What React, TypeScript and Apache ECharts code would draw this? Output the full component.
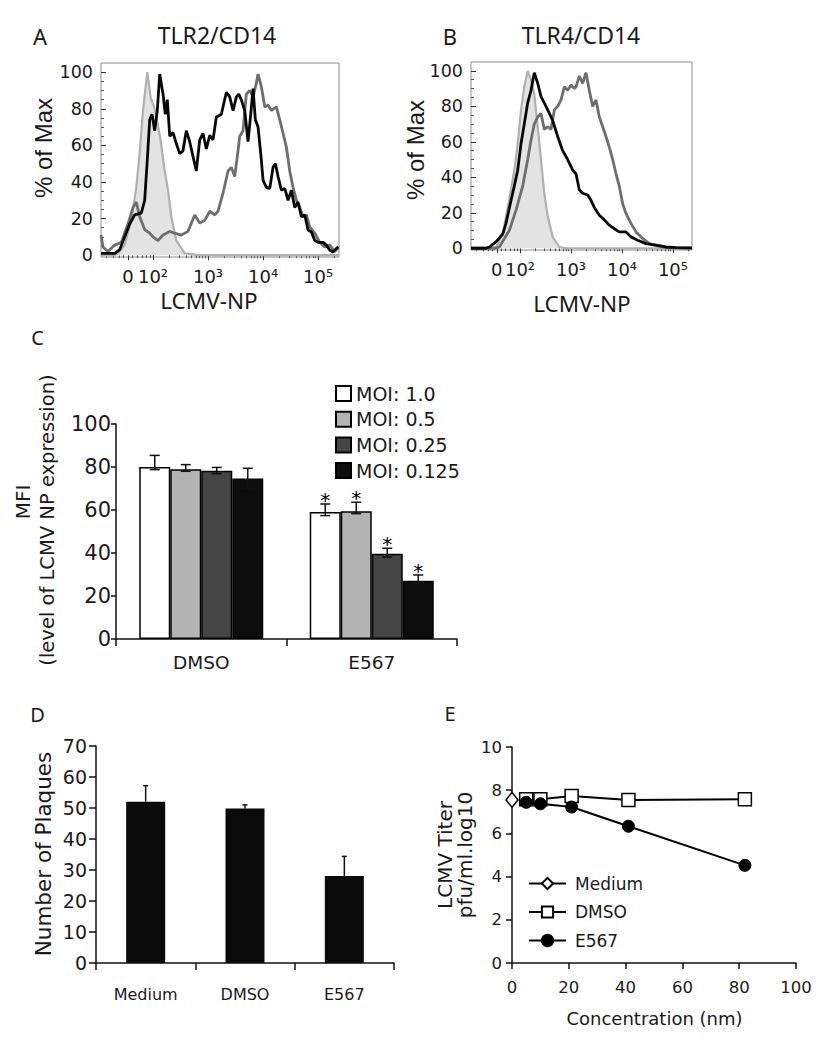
import React, { useEffect, useRef } from 'react';
import * as echarts from 'echarts';

const FF = 'DejaVu Sans';
const FN = 'Noto Sans';
const TXT = '#1a1a1a';

// ---------- Panels A/B: flow histograms (x in logicle "decade" units) ----------
const decadeTicks = [1.545, 2, 3, 4, 5];
const decadeLabels = ['0', '10²', '10³', '10⁴', '10⁵'];
const pctTicks = [0, 20, 40, 60, 80, 100];

const aControl = [
  [1.055, 0], [1.3, 0], [1.364, 1], [1.485, 5.5], [1.605, 19], [1.696, 37], [1.758, 56], [1.818, 79],
  [1.896, 100], [1.958, 86], [2.031, 80], [2.127, 65], [2.213, 46], [2.273, 35.5], [2.333, 21],
  [2.424, 8], [2.576, 1], [2.818, 0], [5.38, 0],
];
const aGray = [
  [1.055, 11], [1.091, 4.5], [1.182, 2], [1.304, 5.5], [1.424, 7], [1.545, 17], [1.636, 26], [1.696, 29],
  [1.758, 21], [1.849, 14], [1.94, 12], [2.0, 10], [2.091, 8], [2.182, 11], [2.304, 13], [2.395, 12],
  [2.515, 11], [2.636, 13], [2.758, 22], [2.849, 17.5], [2.94, 19], [3.031, 24], [3.122, 22], [3.182, 24],
  [3.273, 34], [3.364, 46], [3.424, 48], [3.485, 43], [3.545, 57], [3.576, 65], [3.636, 68], [3.696, 88],
  [3.758, 90], [3.818, 86.5], [3.878, 94], [3.909, 99], [3.969, 92], [4.031, 81], [4.091, 82], [4.151, 79],
  [4.242, 81], [4.304, 74], [4.364, 66.5], [4.424, 59], [4.485, 46], [4.545, 37], [4.606, 30], [4.667, 26],
  [4.727, 21], [4.787, 22], [4.849, 15.5], [4.94, 12], [5.031, 7], [5.122, 4.5], [5.213, 5.5], [5.303, 2],
  [5.364, 4],
];
const aBlack = [
  [1.055, 1], [1.309, 1], [1.395, 3], [1.485, 10], [1.576, 17], [1.667, 22], [1.787, 23], [1.849, 30],
  [1.896, 52], [1.94, 74], [1.982, 77], [2.031, 68], [2.078, 79], [2.122, 99], [2.182, 88], [2.224, 77],
  [2.26, 85], [2.304, 65], [2.364, 67], [2.424, 61], [2.485, 55.5], [2.545, 57], [2.605, 68], [2.667, 62],
  [2.727, 54], [2.787, 46], [2.849, 63], [2.909, 66.5], [2.969, 58], [3.031, 65.5], [3.091, 63], [3.151, 75.5],
  [3.213, 76.5], [3.242, 77], [3.333, 89], [3.394, 86.5], [3.455, 79], [3.515, 86.5], [3.558, 88], [3.605, 85],
  [3.667, 79], [3.727, 62], [3.776, 77], [3.818, 91], [3.86, 74], [3.909, 70], [3.958, 55.5], [4.0, 41],
  [4.06, 37], [4.122, 36.5], [4.182, 48], [4.224, 50], [4.273, 43], [4.333, 35.5], [4.394, 36.5], [4.455, 30],
  [4.515, 35.5], [4.576, 26], [4.636, 29], [4.697, 21], [4.758, 22], [4.818, 13.7], [4.878, 12.7], [4.94, 8],
  [5.0, 7], [5.091, 7], [5.151, 5.5], [5.213, 2.7], [5.273, 1.8], [5.333, 3.7], [5.37, 4.5],
];

const bControl = [
  [1.039, 0], [1.412, 0], [1.529, 0.7], [1.661, 8], [1.759, 23], [1.824, 33], [1.888, 44], [1.955, 59],
  [2.02, 78], [2.084, 91], [2.151, 100], [2.216, 95], [2.28, 87], [2.347, 68.5], [2.412, 50], [2.476, 31],
  [2.543, 18], [2.641, 6.4], [2.771, 0.7], [2.902, 0], [5.373, 0],
];
const bGray = [
  [1.039, 0], [1.51, 0], [1.594, 0.7], [1.79, 10], [1.922, 21.5], [2.053, 35], [2.151, 50], [2.216, 61],
  [2.28, 70], [2.347, 74], [2.412, 76], [2.476, 67], [2.543, 68.5], [2.608, 67], [2.673, 78], [2.739, 80],
  [2.804, 83.6], [2.869, 91], [2.935, 89], [3.0, 92], [3.065, 90], [3.098, 91], [3.163, 97], [3.229, 93],
  [3.294, 99], [3.359, 89], [3.425, 80], [3.49, 83.6], [3.555, 74], [3.622, 68.5], [3.686, 63], [3.751, 57],
  [3.818, 50], [3.882, 42], [3.947, 35], [4.014, 25], [4.078, 19.6], [4.176, 14], [4.275, 9.2], [4.406, 5.5],
  [4.535, 2.6], [4.7, 1.3], [4.863, 0.3], [5.373, 0],
];
const bBlack = [
  [1.039, 0], [1.333, 0], [1.398, 0.7], [1.529, 3.6], [1.661, 8], [1.725, 14], [1.824, 27], [1.888, 35],
  [1.955, 44], [2.02, 59], [2.084, 70], [2.151, 82], [2.216, 89], [2.28, 99], [2.347, 93], [2.412, 85.5],
  [2.476, 82], [2.543, 78], [2.641, 72], [2.739, 63], [2.837, 55], [2.935, 50], [3.033, 44], [3.098, 42],
  [3.163, 33], [3.229, 31], [3.327, 30], [3.392, 27], [3.457, 23], [3.555, 18.6], [3.653, 16], [3.751, 13],
  [3.849, 11], [3.947, 9.2], [4.078, 9.2], [4.176, 6.4], [4.308, 4.5], [4.471, 2.6], [4.667, 1.7],
  [4.863, 0.7], [5.059, 0.3], [5.373, 0.2],
];

// ---------- Panel C ----------
const cCategories = ['DMSO', 'E567'];
const moiNames = ['MOI: 1.0', 'MOI: 0.5', 'MOI: 0.25', 'MOI: 0.125'];
const moi10 = [80, 59.1];
const moi05 = [79, 59.4];
const moi025 = [78.3, 39.7];
const moi0125 = [74.7, 27.1];
const cErrLow = [[78.8, 57.4], [78, 58.3], [76.9, 38.1], [70, 26]];
const cErrHigh = [[85.4, 62.8], [81.1, 63.6], [79.8, 42.2], [79.4, 29.8]];
const cStar = [[0, 1], [0, 1], [0, 1], [0, 1]];

// ---------- Panel D ----------
const dCategories = ['Medium', 'DMSO', 'E567'];
const dPlaques = [52, 49.8, 28.1];
const dErrTop = [57.2, 51, 34.4];

// ---------- Panel E ----------
const eMedium = [[0, 7.55]];
const eDMSO = [[5, 7.58], [10, 7.58], [21, 7.73], [41, 7.55], [82, 7.58]];
const eE567 = [[5, 7.44], [10, 7.37], [21, 7.22], [41, 6.33], [82, 4.52]];

const C_BAR_W = 31;

function decadeLabel(v: number) {
  let best = 0;
  for (let i = 1; i < decadeTicks.length; i++) {
    if (Math.abs(decadeTicks[i] - v) < Math.abs(decadeTicks[best] - v)) best = i;
  }
  return decadeLabels[best];
}

function minorDecades(max: number) {
  const out: number[] = [1.15, 1.27, 1.38, 1.46, 1.63, 1.72, 1.8, 1.88, 1.95];
  for (const base of [2, 3, 4, 5]) {
    for (let k = 2; k <= 9; k++) {
      const v = base + Math.log10(k);
      if (v < max) out.push(v);
    }
  }
  return out;
}

const minorPct = [5, 10, 15, 25, 30, 35, 45, 50, 55, 65, 70, 75, 85, 90, 95];

function histAxes(grid: number, min: number, max: number) {
  const xs = [
    {
      type: 'value', gridIndex: grid, min, max, position: 'bottom', offset: 0,
      axisLine: { show: false }, splitLine: { show: false },
      axisTick: { show: true, customValues: decadeTicks, length: 5, lineStyle: { color: '#333', width: 1 } },
      axisLabel: {
        customValues: decadeTicks, formatter: (v: number) => decadeLabel(v),
        fontSize: 18, fontFamily: FF, color: TXT, margin: 10,
      },
    },
    {
      type: 'value', gridIndex: grid, min, max, position: 'bottom', offset: 0,
      axisLine: { show: false }, splitLine: { show: false }, axisLabel: { show: false },
      axisTick: { show: true, customValues: minorDecades(max), length: 3, lineStyle: { color: '#555', width: 1 } },
    },
  ];
  const ys = [
    {
      type: 'value', gridIndex: grid, min: -1, max: 105, position: 'left', offset: 0,
      axisLine: { show: false }, splitLine: { show: false },
      axisTick: { show: true, inside: true, customValues: pctTicks, length: 5, lineStyle: { color: '#333' } },
      axisLabel: { customValues: pctTicks, fontSize: 17.5, fontFamily: FF, color: TXT, margin: 8 },
    },
    {
      type: 'value', gridIndex: grid, min: -1, max: 105, position: 'left', offset: 0,
      axisLine: { show: false }, splitLine: { show: false }, axisLabel: { show: false },
      axisTick: { show: true, inside: true, customValues: minorPct, length: 3, lineStyle: { color: '#555' } },
    },
  ];
  return { xs, ys };
}

function histSeries(axis: number, control: number[][], gray: number[][], black: number[][]) {
  const base = { type: 'line', xAxisIndex: axis, yAxisIndex: axis, showSymbol: false, symbol: 'none', smooth: false, silent: true };
  return [
    { ...base, name: 'ctrl' + axis, data: control, lineStyle: { color: '#b0b0b0', width: 2.2 }, areaStyle: { color: '#e3e3e3', opacity: 1 }, z: 2 },
    { ...base, name: 'gray' + axis, data: gray, lineStyle: { color: '#6e6e6e', width: 2.8 }, z: 3 },
    { ...base, name: 'black' + axis, data: black, lineStyle: { color: '#080808', width: 2.8 }, z: 4 },
  ];
}

function txt(text: string, x: number, y: number, size: number, family = FF, rot = 0) {
  return {
    type: 'text', x, y, rotation: rot, silent: true,
    style: {
      text, fontSize: size, fontFamily: family, fill: TXT,
      align: 'center', verticalAlign: 'middle', textAlign: 'center', textVerticalAlign: 'middle',
    },
  };
}

function buildOption(): any {
  const A = histAxes(0, 1.055, 5.38);
  const B = histAxes(1, 1.039, 5.373);

  const cSeriesVals = [moi10, moi05, moi025, moi0125];
  const cColors = ['#ffffff', '#b3b3b3', '#454545', '#0d0d0d'];
  const cErrData: number[][] = [];
  for (let k = 0; k < 4; k++) {
    for (let g = 0; g < 2; g++) cErrData.push([g, k, cErrLow[k][g], cErrHigh[k][g], cStar[k][g]]);
  }
  const dErrData = dPlaques.map((v, i) => [i, v, dErrTop[i]]);

  const lineStyleBlack = { stroke: '#111', lineWidth: 1.5 };

  return {
    animation: false,
    backgroundColor: '#ffffff',
    textStyle: { fontFamily: FF, color: TXT },
    grid: [
      { left: 101, top: 63, width: 238, height: 194, show: true, borderColor: '#8c8c8c', borderWidth: 1 },
      { left: 471, top: 62, width: 221, height: 188, show: true, borderColor: '#8c8c8c', borderWidth: 1 },
      { left: 116, top: 424, width: 341, height: 215 },
      { left: 96, top: 746, width: 298, height: 217 },
      { left: 512, top: 747, width: 284, height: 216 },
    ],
    xAxis: [
      ...A.xs,
      ...B.xs,
      {
        type: 'category', gridIndex: 2, data: cCategories,
        axisLine: { show: true, lineStyle: { color: '#111', width: 1.5 } },
        axisTick: { show: true, length: 7, lineStyle: { color: '#111', width: 1.5 } },
        axisLabel: { fontSize: 18.5, fontFamily: FF, color: TXT, margin: 14 },
      },
      {
        type: 'category', gridIndex: 3, data: dCategories,
        axisLine: { show: true, lineStyle: { color: '#111', width: 1.5 } },
        axisTick: { show: true, length: 7, lineStyle: { color: '#111', width: 1.5 } },
        axisLabel: { fontSize: 16, fontFamily: FF, color: TXT, margin: 23 },
      },
      {
        type: 'value', gridIndex: 4, min: 0, max: 100, interval: 20,
        axisLine: { show: true, lineStyle: { color: '#111', width: 1.5 } },
        axisTick: { show: true, length: 6, lineStyle: { color: '#111', width: 1.5 } },
        splitLine: { show: false },
        axisLabel: { fontSize: 16.5, fontFamily: FF, color: TXT, margin: 16 },
      },
    ],
    yAxis: [
      ...A.ys,
      ...B.ys,
      {
        type: 'value', gridIndex: 2, min: 0, max: 100, interval: 20,
        axisLine: { show: true, lineStyle: { color: '#111', width: 1.5 } },
        axisTick: { show: true, length: 5, lineStyle: { color: '#111', width: 1.5 } },
        splitLine: { show: false },
        axisLabel: { fontSize: 21, fontFamily: FF, color: TXT, margin: 5 },
      },
      {
        type: 'value', gridIndex: 3, min: 0, max: 70, interval: 10,
        axisLine: { show: true, lineStyle: { color: '#111', width: 1.5 } },
        axisTick: { show: true, length: 7, lineStyle: { color: '#111', width: 1.5 } },
        splitLine: { show: false },
        axisLabel: { fontSize: 19, fontFamily: FF, color: TXT, margin: 9 },
      },
      {
        type: 'value', gridIndex: 4, min: 0, max: 10, interval: 2,
        axisLine: { show: true, lineStyle: { color: '#111', width: 1.5 } },
        axisTick: { show: true, length: 6, lineStyle: { color: '#111', width: 1.5 } },
        splitLine: { show: false },
        axisLabel: { fontSize: 16.5, fontFamily: FF, color: TXT, margin: 10 },
      },
    ],
    legend: [
      {
        orient: 'vertical', left: 335, top: 384, padding: 0, itemWidth: 15, itemHeight: 15, itemGap: 6.7,
        icon: 'rect', data: moiNames, selectedMode: false,
        textStyle: { fontSize: 19, fontFamily: FF, color: TXT, lineHeight: 15 },
      },
      {
        orient: 'vertical', left: 528, top: 875, padding: 0, itemWidth: 37, itemHeight: 14, itemGap: 11.5,
        data: ['Medium', 'DMSO', 'E567'], selectedMode: false,
        textStyle: { fontSize: 17, fontFamily: FF, color: TXT, lineHeight: 14, padding: [0, 0, 0, 4] },
      },
    ],
    series: [
      ...histSeries(0, aControl, aGray, aBlack),
      ...histSeries(2, bControl, bGray, bBlack).map((s: any) => ({ ...s, xAxisIndex: 2, yAxisIndex: 2 })),
      ...cSeriesVals.map((vals, k) => ({
        type: 'bar', name: moiNames[k], xAxisIndex: 4, yAxisIndex: 4, data: vals,
        barWidth: C_BAR_W, barGap: '0%',
        itemStyle: { color: cColors[k], borderColor: '#000', borderWidth: 1.5 },
      })),
      {
        type: 'custom', name: 'errC', xAxisIndex: 4, yAxisIndex: 4, data: cErrData, z: 5, silent: true,
        renderItem: (_p: any, api: any) => {
          const g = api.value(0), k = api.value(1);
          const cx = api.coord([g, 0])[0] + (k - 1.5) * C_BAR_W;
          const yl = api.coord([g, api.value(2)])[1];
          const yh = api.coord([g, api.value(3)])[1];
          const cap = 5;
          const children: any[] = [
            { type: 'line', shape: { x1: cx, y1: yl, x2: cx, y2: yh }, style: lineStyleBlack },
            { type: 'line', shape: { x1: cx - cap, y1: yh, x2: cx + cap, y2: yh }, style: lineStyleBlack },
            { type: 'line', shape: { x1: cx - cap, y1: yl, x2: cx + cap, y2: yl }, style: lineStyleBlack },
          ];
          if (api.value(4)) {
            children.push({
              type: 'text', x: cx, y: yh - 4,
              style: { text: '*', fontSize: 20, fontFamily: FF, fill: '#000', align: 'center', verticalAlign: 'middle', textAlign: 'center', textVerticalAlign: 'middle' },
            });
          }
          return { type: 'group', children };
        },
      },
      {
        type: 'bar', name: 'Plaques', xAxisIndex: 5, yAxisIndex: 5, data: dPlaques, barWidth: 39,
        itemStyle: { color: '#0a0a0a' },
      },
      {
        type: 'custom', name: 'errD', xAxisIndex: 5, yAxisIndex: 5, data: dErrData, z: 5, silent: true,
        renderItem: (_p: any, api: any) => {
          const i = api.value(0);
          const cx = api.coord([i, 0])[0];
          const yl = api.coord([i, api.value(1)])[1];
          const yh = api.coord([i, api.value(2)])[1];
          return {
            type: 'group',
            children: [
              { type: 'line', shape: { x1: cx, y1: yl, x2: cx, y2: yh }, style: lineStyleBlack },
              { type: 'line', shape: { x1: cx - 2.5, y1: yh, x2: cx + 2.5, y2: yh }, style: lineStyleBlack },
            ],
          };
        },
      },
      {
        type: 'line', name: 'Medium', xAxisIndex: 6, yAxisIndex: 6, data: eMedium,
        symbol: 'diamond', symbolSize: [12, 15], showSymbol: true,
        itemStyle: { color: '#ffffff', borderColor: '#000', borderWidth: 1.5 },
        lineStyle: { color: '#000', width: 2 }, z: 3,
      },
      {
        type: 'line', name: 'DMSO', xAxisIndex: 6, yAxisIndex: 6, data: eDMSO,
        symbol: 'rect', symbolSize: 13, showSymbol: true,
        itemStyle: { color: '#ffffff', borderColor: '#000', borderWidth: 1.5 },
        lineStyle: { color: '#000', width: 2 }, z: 4,
      },
      {
        type: 'line', name: 'E567', xAxisIndex: 6, yAxisIndex: 6, data: eE567,
        symbol: 'circle', symbolSize: 12, showSymbol: true,
        itemStyle: { color: '#000', borderColor: '#000', borderWidth: 1 },
        lineStyle: { color: '#000', width: 2 }, z: 5,
      },
    ],
    graphic: [
      txt('A', 40, 36, 22, FN),
      txt('TLR2/CD14', 217, 35, 23, FN),
      txt('B', 450, 36, 22, FN),
      txt('TLR4/CD14', 581, 35, 23, FN),
      txt('% of Max', 43.5, 148, 24, 'Liberation Sans', Math.PI / 2),
      txt('% of Max', 415, 150, 24, 'Liberation Sans', Math.PI / 2),
      txt('LCMV-NP', 209, 300, 22.5, FN),
      txt('LCMV-NP', 582, 303, 22.5, FN),
      txt('C', 37.5, 337, 20, FN),
      txt('MFI', 23, 502, 20, FF, Math.PI / 2),
      txt('(level of LCMV NP expression)', 47, 520, 19.5, FF, Math.PI / 2),
      txt('D', 37.5, 714.5, 20, FN),
      txt('Number of Plaques', 43.5, 854, 21.5, FF, Math.PI / 2),
      txt('E', 450, 713.5, 20, FN),
      txt('LCMV Titer', 445, 855, 20, FF, Math.PI / 2),
      txt('pfu/ml.log10', 465, 855, 20, FF, Math.PI / 2),
      txt('Concentration (nm)', 654.5, 1018, 18, FF),
    ],
  };
}

export default function App() {
  const ref = useRef<HTMLDivElement>(null);
  useEffect(() => {
    if (!ref.current) return;
    const chart = echarts.init(ref.current, null, { renderer: 'svg' });
    chart.setOption(buildOption());
    return () => chart.dispose();
  }, []);
  return (
    <div
      ref={ref}
      style={{ position: 'absolute', left: 0, top: 0, width: 822, height: 1050, background: '#fff' }}
    />
  );
}
